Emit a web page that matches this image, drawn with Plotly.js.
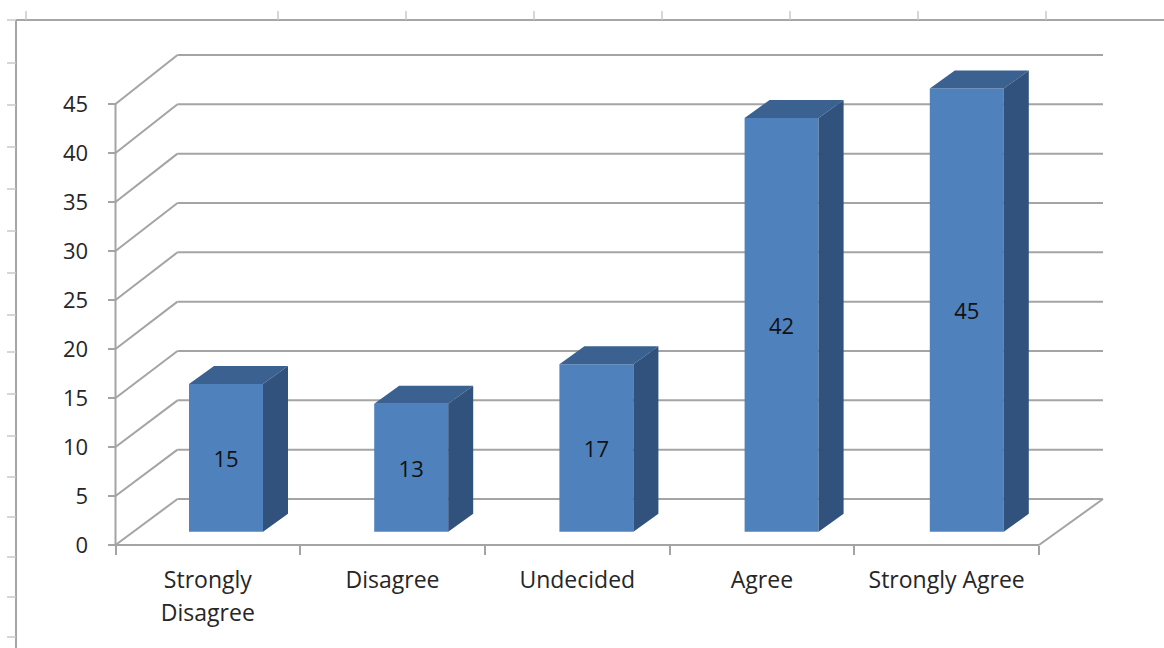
<!DOCTYPE html>
<html>
<head>
<meta charset="utf-8">
<script src="https://cdn.plot.ly/plotly-3.0.1.min.js"></script>
<style>html,body{margin:0;padding:0;background:#fff}#chart{width:1164px;height:648px}</style>
</head>
<body>
<div id="chart"></div>
<script>
const categories = ["Strongly<br>Disagree", "Disagree", "Undecided", "Agree", "Strongly Agree"];
const values = [15, 13, 17, 42, 45];
const yTicks = [0, 5, 10, 15, 20, 25, 30, 35, 40, 45];
const catIndex = [0, 1, 2, 3, 4];
const catEdges = [-0.5, 0.5, 1.5, 2.5, 3.5, 4.5];
const sheetTopTicks = [26, 278, 406, 534, 662, 790, 918, 1046];
const sheetLeftTicks = [20, 63, 105, 147, 189, 231, 273, 315, 352, 394, 436, 477, 517, 557, 597, 637];

const W = 1164, H = 648;
const plotL = 90, plotR = 1125, plotT = 35, plotB = 565;

// Front plane of the 3D box: axes, ticks and labels
const pxX = 184.7, pxY = 9.8, x0px = 115.5, y0px = 545;
const xRange = [-0.5 - (x0px - plotL) / pxX, -0.5 + (plotR - x0px) / pxX];
const yRange = [-(plotB - y0px) / pxY, (y0px - plotT) / pxY];

// Bar plane, further back in perspective: its own hidden axes
const barPxX = 185.2, barPxY = 9.85, bar0X = 226, bar0Y = 531.7;
const x2Range = [(plotL - bar0X) / barPxX, (plotR - bar0X) / barPxX];
const y2Range = [-(plotB - bar0Y) / barPxY, (bar0Y - plotT) / barPxY];
const barWidth = 74 / barPxX, barDepthX = 25 / barPxX, barDepthY = 18 / barPxY;

// Back wall, furthest back
const depthX = 62 / pxX, depthY = 46 / pxY, backX = 925.5 / (5 * pxX), backY = 9.867 / pxY;

const GRID = "#a4a4a4", TEXT = "#262626", FONT = "'Open Sans', sans-serif";
const FRONT = "#4f81bd", TOP = "#3a6190", SIDE = "#30527d";

const line = (x0, y0, x1, y1) => ({type: "line", xref: "x", yref: "y", x0, y0, x1, y1, layer: "below", line: {color: GRID, width: 2}});
const pline = (x0, y0, x1, y1, w) => ({type: "line", xref: "paper", yref: "paper", x0: x0 / W, x1: x1 / W, y0: 1 - y0 / H, y1: 1 - y1 / H, layer: "below", line: {color: w > 1.6 ? "#a6a6a6" : "#c8c8c8", width: w}});

const L = catEdges[0], R = catEdges[catEdges.length - 1];
const backL = L + depthX, backR = backL + (R - L) * backX;
const shapes = [];
yTicks.forEach(v => {
  const by = v * backY + depthY;
  shapes.push(line(L, v, backL, by));
  shapes.push(line(backL, by, backR, by));
});
shapes.push(line(L, 0, L, 45));
shapes.push(line(L, 0, R, 0));
shapes.push(line(R, 0, backR, depthY));
shapes.push(pline(16, 20, 1164, 20, 2));
shapes.push(pline(16, 20, 16, 648, 2));
sheetTopTicks.forEach(x => shapes.push(pline(x, 11, x, 20, 1.5)));
sheetLeftTicks.forEach(y => shapes.push(pline(7, y, 16, y, 1.5)));

const topX = [], topY = [], sideX = [], sideY = [];
values.forEach((v, i) => {
  const a = catIndex[i] - barWidth / 2, b = a + barWidth;
  topX.push(a, a + barDepthX, b + barDepthX, b, a, null);
  topY.push(v, v + barDepthY, v + barDepthY, v, v, null);
  sideX.push(b, b + barDepthX, b + barDepthX, b, b, null);
  sideY.push(0, barDepthY, v + barDepthY, v, 0, null);
});

const labelSize = 23, numberSize = 22;
const data = [
  {type: "bar", xaxis: "x2", yaxis: "y2", x: catIndex, y: values, width: barWidth,
   marker: {color: FRONT, line: {width: 0}}, text: values.map(String), textposition: "inside",
   insidetextanchor: "middle", textangle: 0, textfont: {family: FONT, size: numberSize, color: "#111"},
   hoverinfo: "skip", cliponaxis: false},
  {type: "scatter", xaxis: "x2", yaxis: "y2", mode: "lines", x: topX, y: topY, fill: "toself", fillcolor: TOP, line: {width: 0, color: TOP}, hoverinfo: "skip"},
  {type: "scatter", xaxis: "x2", yaxis: "y2", mode: "lines", x: sideX, y: sideY, fill: "toself", fillcolor: SIDE, line: {width: 0, color: SIDE}, hoverinfo: "skip"},
  {type: "scatter", xaxis: "x", yaxis: "y", mode: "lines", x: [L], y: [0], line: {width: 0}, hoverinfo: "skip"}
];

const layout = {
  width: W, height: H, margin: {l: 0, r: 0, t: 0, b: 0}, showlegend: false,
  paper_bgcolor: "#fff", plot_bgcolor: "#fff", font: {family: FONT, color: TEXT},
  shapes,
  xaxis: {
    domain: [plotL / W, plotR / W], range: xRange, anchor: "free", position: 1 - y0px / H,
    tickmode: "array", tickvals: catIndex,
    ticktext: categories.map(c => c.split("<br>").map(s => '<span style="font-size:' + labelSize + 'px">' + s + "</span>").join("<br>")),
    ticks: "", ticklen: 0, showgrid: false, zeroline: false, showline: false, tickangle: 0,
    tickfont: {family: FONT, size: 25.4, color: TEXT}, ticklabelstandoff: 17,
    minor: {tickmode: "array", tickvals: catEdges, ticks: "outside", ticklen: 9, tickwidth: 2, tickcolor: GRID, showgrid: false}
  },
  yaxis: {
    domain: [1 - plotB / H, 1 - plotT / H], range: yRange, anchor: "free", position: x0px / W,
    tickmode: "array", tickvals: yTicks, ticks: "outside", ticklen: 8, tickwidth: 2, tickcolor: GRID,
    showgrid: false, zeroline: false, showline: false,
    tickfont: {family: FONT, size: numberSize, color: TEXT}, ticklabelstandoff: 15
  },
  xaxis2: {overlaying: "x", domain: [plotL / W, plotR / W], range: x2Range, anchor: "y2", visible: false},
  yaxis2: {overlaying: "y", domain: [1 - plotB / H, 1 - plotT / H], range: y2Range, anchor: "x2", visible: false}
};

Plotly.newPlot("chart", data, layout, {displayModeBar: false, staticPlot: true});
</script>
</body>
</html>
